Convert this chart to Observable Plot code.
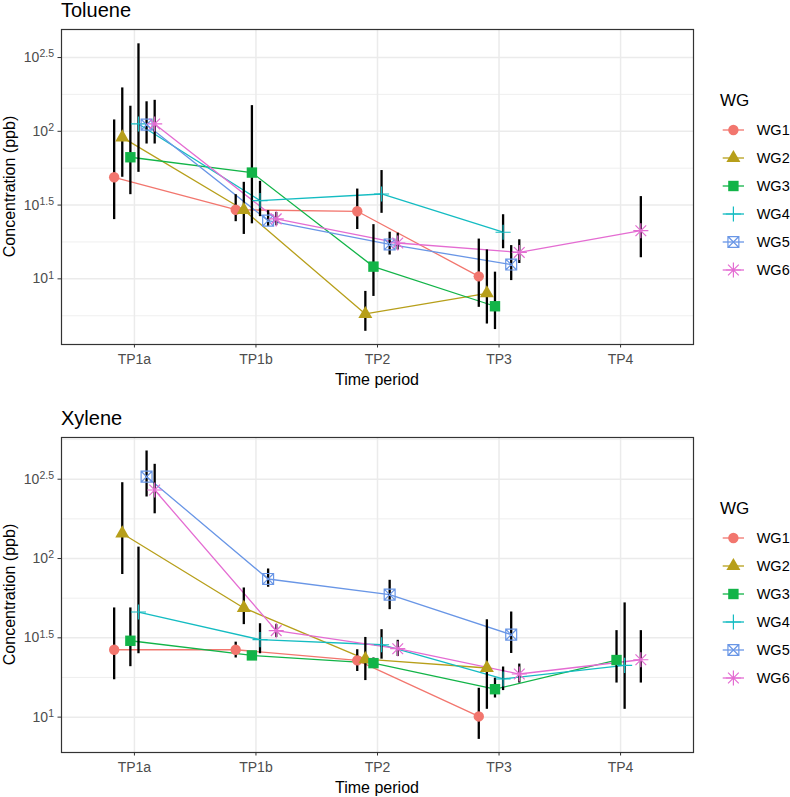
<!DOCTYPE html>
<html><head><meta charset="utf-8">
<script src="https://cdn.jsdelivr.net/npm/d3@7"></script>
<script src="https://cdn.jsdelivr.net/npm/@observablehq/plot@0.6"></script>
<style>
body{margin:0;background:#fff;}
#root{position:relative;width:790px;height:797px;overflow:hidden;font-family:"Liberation Sans",Arial,sans-serif;background:#fff;}
#root .panel{position:absolute;left:0;}
#overlay{position:absolute;left:0;top:0;}
</style></head><body><div id="root"></div>
<script>
const periods = ["TP1a", "TP1b", "TP2", "TP3", "TP4"];
const groups = ["WG1", "WG2", "WG3", "WG4", "WG5", "WG6"];
const colors = ["#F2766E", "#B79F1A", "#12B448", "#14BCC2", "#6996E6", "#E46CD2"];
const panelTitles = ["Toluene", "Xylene"];

// Concentration (ppb): rows WG1..WG6, columns TP1a..TP4 (null = no data)
const tolueneMean = [
  [48.8, 29.4, 28.7, 10.4, null],
  [91.0, 29.3, 5.78, 7.98, null],
  [66.7, 52.5, 12.1, 6.52, null],
  [112.2, 33.9, 37.6, 20.7, null],
  [110.9, 24.8, 17.1, 12.5, null],
  [112.2, 25.5, 17.5, 15.1, 21.2]
];
const tolueneLow = [
  [25.2, 24.4, 21.6, 6.41, null],
  [48.8, 20.0, 4.41, 4.94, null],
  [37.2, 23.6, 7.60, 4.53, null],
  [52.7, 26.4, 27.8, 16.0, null],
  [82.0, 22.6, 14.5, 9.73, null],
  [82.0, 22.9, 15.7, 12.7, 13.9]
];
const tolueneHigh = [
  [119.4, 37.2, 40.6, 18.6, null],
  [196.8, 45.1, 8.22, 15.7, null],
  [147.9, 149.3, 23.3, 11.1, null],
  [391.7, 45.8, 54.2, 27.2, null],
  [158.5, 29.0, 20.7, 16.8, null],
  [162.2, 28.2, 20.4, 18.4, 36.1]
];
const xyleneMean = [
  [26.6, 26.6, 22.8, 10.1, null],
  [143.9, 48.8, 23.2, 20.4, null],
  [30.3, 24.5, 21.9, 15.0, 22.9],
  [46.0, 30.8, 28.6, 17.4, 21.2],
  [328.1, 74.3, 59.2, 33.1, null],
  [270.4, 35.1, 27.0, 18.7, 23.0]
];
const xyleneLow = [
  [17.2, 23.6, 19.4, 7.24, null],
  [79.3, 38.3, 17.0, 11.2, null],
  [20.8, 23.4, 20.3, 13.2, 16.4],
  [25.1, 25.1, 23.2, 14.7, 11.2],
  [244.3, 65.9, 47.6, 25.2, null],
  [191.4, 31.8, 24.1, 16.4, 16.4]
];
const xyleneHigh = [
  [48.8, 29.7, 26.6, 15.2, null],
  [300.6, 65.2, 31.8, 41.1, null],
  [48.8, 25.7, 23.6, 17.6, 35.1],
  [118.0, 38.8, 35.6, 20.7, 52.5],
  [476.4, 85.9, 72.9, 46.0, null],
  [392.6, 38.3, 30.5, 21.6, 35.1]
];
const yTickExponents = [1, 1.5, 2, 2.5];
const yMinorExponents = [0.75, 1.25, 1.75, 2.25, 2.75];
const tolueneDomainExp = [0.555, 2.69];
const xyleneDomainExp = [0.777, 2.763];

const dodgeWidth = 0.4;
const R = 5.2;

// ggplot-like shapes
const rad = s => Math.sqrt(s / Math.PI);
const symCircle = {draw(c, s) { const r = rad(s); c.moveTo(r, 0); c.arc(0, 0, r, 0, 2 * Math.PI); c.closePath(); }};
const symTriangle = {draw(c, s) { const r = rad(s); c.moveTo(0, -1.555 * r); c.lineTo(1.347 * r, 0.778 * r); c.lineTo(-1.347 * r, 0.778 * r); c.closePath(); }};
const symSquare = {draw(c, s) { const h = rad(s); c.moveTo(-h, -h); c.lineTo(h, -h); c.lineTo(h, h); c.lineTo(-h, h); c.closePath(); }};
const symPlus = {draw(c, s) { const a = 1.45 * rad(s); c.moveTo(-a, 0); c.lineTo(a, 0); c.moveTo(0, -a); c.lineTo(0, a); }};
const symSquareX = {draw(c, s) { const h = 1.05 * rad(s); c.moveTo(-h, -h); c.lineTo(h, -h); c.lineTo(h, h); c.lineTo(-h, h); c.closePath(); c.moveTo(-h, -h); c.lineTo(h, h); c.moveTo(-h, h); c.lineTo(h, -h); }};
const symAsterisk = {draw(c, s) { const r = rad(s), a = 1.45 * r, d = 1.03 * r; c.moveTo(-a, 0); c.lineTo(a, 0); c.moveTo(0, -a); c.lineTo(0, a); c.moveTo(-d, -d); c.lineTo(d, d); c.moveTo(-d, d); c.lineTo(d, -d); }};
const symbols = [symCircle, symTriangle, symSquare, symPlus, symSquareX, symAsterisk];
const filled = [true, true, true, false, false, false];

function rows(mean, low, high) {
  const out = [];
  groups.forEach((g, gi) => periods.forEach((p, pi) => {
    const v = mean[gi][pi];
    if (v == null) return;
    out.push({wg: g, gi, period: p, x: pi + 1 + (gi - (groups.length - 1) / 2) * dodgeWidth / groups.length, y: v, lo: low[gi][pi], hi: high[gi][pi]});
  }));
  return out;
}

const font = '"Liberation Sans", Arial, Helvetica, sans-serif';

function panel(data, domExp) {
  const domain = domExp.map(e => 10 ** e);
  const inDom = e => e >= domExp[0] && e <= domExp[1];
  const major = yTickExponents.filter(inDom).map(e => 10 ** e);
  const minor = yMinorExponents.filter(inDom).map(e => 10 ** e);
  const fmt = v => { const e = Math.round(Math.log10(v) * 100) / 100; return "10^" + e; };
  const el = Plot.plot({
    width: 700, height: 389,
    marginTop: 29, marginBottom: 45, marginLeft: 61, marginRight: 7,
    style: {fontFamily: font, background: "transparent", overflow: "visible"},
    x: {type: "linear", domain: [0.4, periods.length + 0.6]},
    y: {type: "log", domain},
    color: {domain: groups, range: colors},
    symbol: {domain: groups, range: symbols},
    marks: [
      Plot.gridY(minor, {stroke: "#EBEBEB", strokeOpacity: 1, strokeWidth: 0.8}),
      Plot.gridY(major, {stroke: "#EBEBEB", strokeOpacity: 1, strokeWidth: 1.5}),
      Plot.gridX(d3.range(1, periods.length + 1), {stroke: "#EBEBEB", strokeOpacity: 1, strokeWidth: 1.5}),
      Plot.line(data, {x: "x", y: "y", z: "wg", stroke: "wg", strokeWidth: 1.3}),
      Plot.ruleX(data, {x: "x", y1: "lo", y2: "hi", stroke: "black", strokeWidth: 2.3}),
      Plot.dot(data.filter(d => filled[d.gi]), {x: "x", y: "y", symbol: "wg", fill: "wg", r: R}),
      Plot.dot(data.filter(d => !filled[d.gi]), {x: "x", y: "y", symbol: "wg", stroke: "wg", fill: "none", r: R, strokeWidth: 1.2}),
      Plot.frame({stroke: "#333333", strokeWidth: 1.2}),
      Plot.axisX({ticks: d3.range(1, periods.length + 1), tickFormat: i => periods[i - 1], tickSize: 3.5, tickPadding: 6.5, fontSize: 14, fill: "#4D4D4D", stroke: "#333333", label: null}),
      Plot.axisY({ticks: major, tickFormat: fmt, tickSize: 3.5, tickPadding: 4, fontSize: 14, fill: "#4D4D4D", stroke: "#333333", label: null})
    ]
  });
  const ns = "http://www.w3.org/2000/svg";
  el.querySelectorAll('g[aria-label="y-axis tick label"] text').forEach(t => {
    const parts = t.textContent.split("^");
    if (parts.length !== 2) return;
    t.textContent = "";
    const a = document.createElementNS(ns, "tspan"); a.textContent = parts[0]; t.appendChild(a);
    const b = document.createElementNS(ns, "tspan"); b.setAttribute("dy", "-0.45em"); b.setAttribute("font-size", "10.5"); b.textContent = parts[1]; t.appendChild(b);
  });
  return el;
}

const root = document.getElementById("root");
const panelData = [
  [rows(tolueneMean, tolueneLow, tolueneHigh), tolueneDomainExp],
  [rows(xyleneMean, xyleneLow, xyleneHigh), xyleneDomainExp]
];
const offsets = [0, 408];
panelData.forEach(([data, dom], k) => {
  const wrap = document.createElement("div");
  wrap.className = "panel";
  wrap.style.top = offsets[k] + "px";
  wrap.appendChild(panel(data, dom));
  root.appendChild(wrap);
});

// titles, axis titles and legends
const ov = d3.select(root).append("svg").attr("id", "overlay").attr("width", 790).attr("height", 797)
  .style("font-family", font);
offsets.forEach((off, k) => {
  ov.append("text").attr("x", 61).attr("y", 17 + off).attr("font-size", 20).attr("fill", "#000").text(panelTitles[k]);
  ov.append("text").attr("transform", `translate(15,${186.5 + off}) rotate(-90)`).attr("text-anchor", "middle").attr("font-size", 16).attr("fill", "#000").text("Concentration (ppb)");
  ov.append("text").attr("x", 377).attr("y", 385 + off).attr("text-anchor", "middle").attr("font-size", 16).attr("fill", "#000").text("Time period");
  ov.append("text").attr("x", 720).attr("y", 106 + off).attr("font-size", 17).attr("fill", "#000").text("WG");
  groups.forEach((g, i) => {
    const cy = 130 + 28 * i + off;
    ov.append("line").attr("x1", 722.7).attr("x2", 744).attr("y1", cy).attr("y2", cy).attr("stroke", colors[i]).attr("stroke-width", 1.3);
    const p = d3.path(); symbols[i].draw(p, R * R * Math.PI);
    const sp = ov.append("path").attr("d", p.toString()).attr("transform", `translate(733.4,${cy})`);
    if (filled[i]) sp.attr("fill", colors[i]).attr("stroke", "none");
    else sp.attr("fill", "none").attr("stroke", colors[i]).attr("stroke-width", 1.2);
    ov.append("text").attr("x", 756.7).attr("y", cy + 5.2).attr("font-size", 14.5).attr("fill", "#000").text(g);
  });
});
</script></body></html>
